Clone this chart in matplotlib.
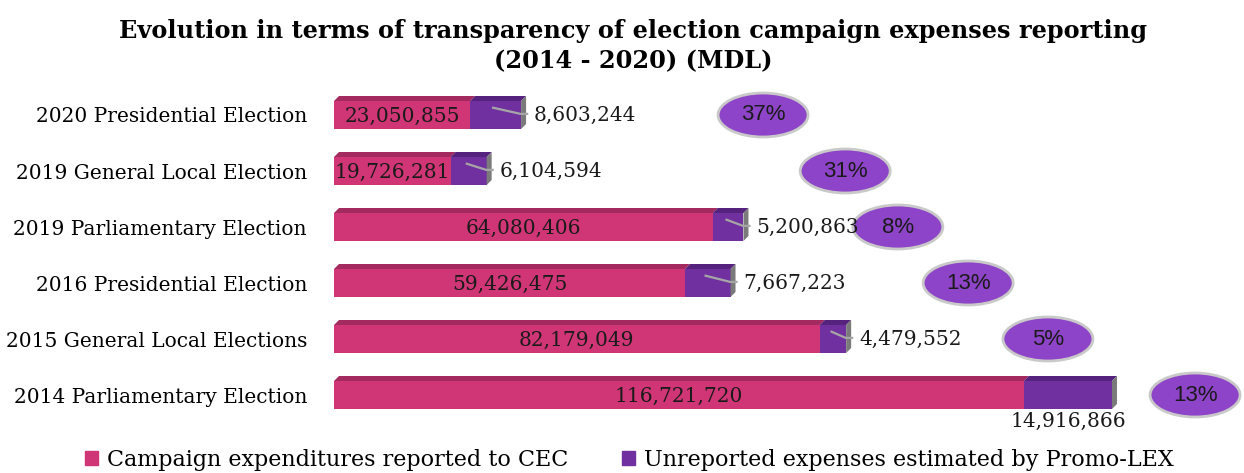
import matplotlib
matplotlib.use("Agg")
import matplotlib.pyplot as plt
from matplotlib.patches import Polygon, Ellipse, Patch

categories = ["2014 Parliamentary Election", "2015 General Local Elections",
              "2016 Presidential Election", "2019 Parliamentary Election",
              "2019 General Local Election", "2020 Presidential Election"]
reported = [116721720, 82179049, 59426475, 64080406, 19726281, 23050855]
unreported = [14916866, 4479552, 7667223, 5200863, 6104594, 8603244]
pct_labels = ["13%", "5%", "13%", "8%", "31%", "37%"]
series_names = ["Campaign expenditures reported to CEC",
                "Unreported expenses estimated by Promo-LEX"]
title = "Evolution in terms of transparency of election campaign expenses reporting\n(2014 - 2020) (MDL)"

# layout (bubble placement in axis units)
bubble_x = [145.7e6, 120.8e6, 107.3e6, 95.4e6, 86.5e6, 72.6e6]

PINK = "#D03575"
PINK_TOP = "#A32A5E"
PURPLE = "#7030A0"
PURPLE_TOP = "#55237D"
SIDE = "#7A7A7A"
BUBBLE = "#8E44C8"
SERIF = ["DejaVu Serif"]
FS = 14.5

W, H = 1244, 473
fig = plt.figure(figsize=(W / 100, H / 100), dpi=100)
px_per = 5.91e-6  # pixels per MDL
ax_left, ax_right = 334, 1244
ax_top, ax_bot = 87, 423
ax = fig.add_axes([ax_left / W, 1 - ax_bot / H, (ax_right - ax_left) / W, (ax_bot - ax_top) / H])
xmax = (ax_right - ax_left) / px_per
ax.set_xlim(0, xmax)
ax.set_ylim(-0.5, 5.5)

bh = 0.5
dx = 5 / px_per
dy = 5 / 56.0
y = list(range(len(categories)))

ax.barh(y, reported, height=bh, color=PINK, zorder=2)
ax.barh(y, unreported, left=reported, height=bh, color=PURPLE, zorder=2)

for i in y:
    r, u = reported[i], unreported[i]
    top = i + bh / 2
    ax.add_patch(Polygon([(0, top), (r, top), (r + dx, top + dy), (dx, top + dy)],
                         closed=True, color=PINK_TOP, zorder=2, lw=0))
    ax.add_patch(Polygon([(r, top), (r + u, top), (r + u + dx, top + dy), (r + dx, top + dy)],
                         closed=True, color=PURPLE_TOP, zorder=2, lw=0))
    e = r + u
    ax.add_patch(Polygon([(e, top), (e + dx, top + dy), (e + dx, i - bh / 2 + dy), (e, i - bh / 2)],
                         closed=True, color=SIDE, zorder=2, lw=0))
    ax.text(r / 2, i - 0.03, f"{r:,}", ha="center", va="center", fontsize=FS,
            family=SERIF, color="#1a1a1a", zorder=4)
    if i == 0:
        ax.text(r + u / 2, i - 0.47, f"{u:,}", ha="center", va="center", fontsize=FS,
                family=SERIF, color="#1a1a1a", zorder=4)
    else:
        ax.plot([r + u * 0.45, e - 0.1 * dx, e + dx * 1.2],
                [i + 0.13, i + 0.02, i + 0.02], color="#A6A6A6", lw=1.6, zorder=3)
        ax.text(e + dx + 8 / px_per, i, f"{u:,}", ha="left", va="center", fontsize=FS,
                family=SERIF, color="#1a1a1a", zorder=4)
    ax.add_patch(Ellipse((bubble_x[i], i), 90 / px_per, 44 / 56.0, facecolor=BUBBLE,
                         edgecolor="#C9C9C9", lw=2.0, zorder=3))
    ax.text(bubble_x[i], i, pct_labels[i], ha="center", va="center", fontsize=16,
            family=["Liberation Sans"], color="#1a1a1a", zorder=4)

ax.set_yticks(y)
ax.set_yticklabels(categories, family=SERIF, fontsize=FS)
ax.tick_params(axis="y", length=0, pad=19.5)
ax.set_xticks([])
for s in ax.spines.values():
    s.set_visible(False)

fig.text(0.509, 1 - 46 / H, title, ha="center", va="center", fontsize=17.3,
         fontweight="bold", family=SERIF, linespacing=1.3)

handles = [Patch(color=PINK), Patch(color=PURPLE)]
fig.legend(handles, series_names, loc="center", bbox_to_anchor=(0.506, 1 - 460 / H),
           ncol=2, frameon=False, prop={"family": "DejaVu Serif", "size": 16},
           handlelength=0.6, handleheight=0.6, handletextpad=0.4, columnspacing=2.4)

fig.savefig("out.png", dpi=100)
